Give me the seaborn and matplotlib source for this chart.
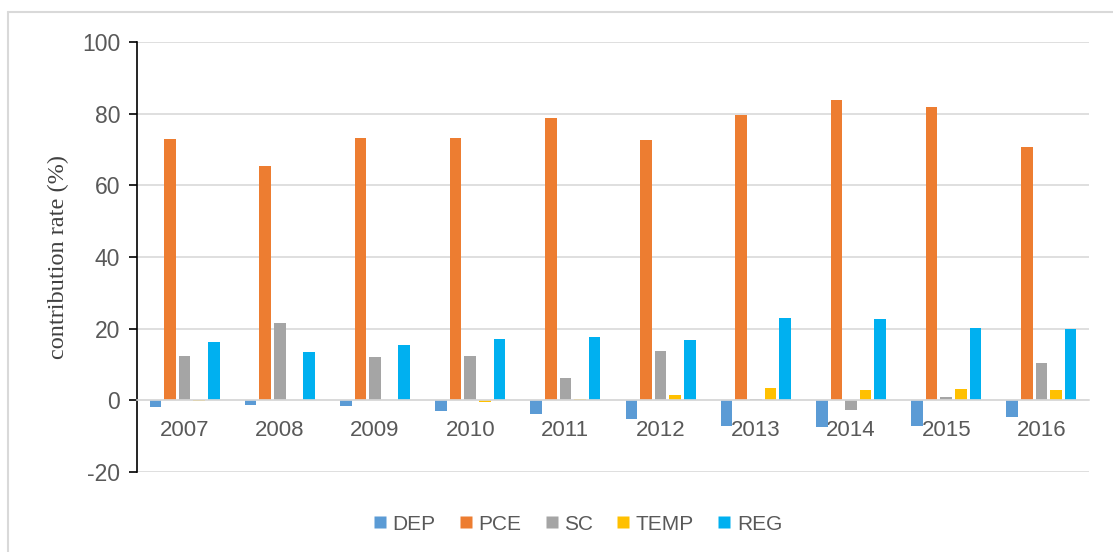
import seaborn as sns
import pandas as pd
import matplotlib.pyplot as plt
from matplotlib.lines import Line2D

# values
years = ['2007', '2008', '2009', '2010', '2011', '2012', '2013', '2014', '2015', '2016']
series = ['DEP', 'PCE', 'SC', 'TEMP', 'REG']
dep = [-1.8, -1.3, -1.6, -3.0, -3.9, -5.3, -7.1, -7.4, -7.2, -4.6]
pce = [72.9, 65.5, 73.1, 73.2, 78.8, 72.6, 79.7, 83.7, 82.0, 70.6]
sc = [12.3, 21.6, 12.2, 12.5, 6.3, 13.7, 0.3, -2.8, 0.9, 10.5]
temp = [-0.2, 0.0, 0.0, -0.4, 0.3, 1.5, 3.4, 2.8, 3.1, 2.8]
reg = [16.3, 13.6, 15.5, 17.1, 17.8, 16.7, 22.9, 22.8, 20.3, 19.9]
colors = ['#5B9BD5', '#ED7D31', '#A5A5A5', '#FFC000', '#00B0F0']

df = pd.DataFrame({'year': years, 'DEP': dep, 'PCE': pce, 'SC': sc, 'TEMP': temp, 'REG': reg})
long = df.melt(id_vars='year', var_name='series', value_name='value')

sns.set_style('white')
plt.rcParams['font.family'] = ['Liberation Sans', 'DejaVu Sans']
plt.rcParams['axes.unicode_minus'] = False

fig = plt.figure(figsize=(11.13, 5.52), dpi=100)
ax = fig.add_axes([137 / 1113, 1 - 472 / 552, (1089 - 137) / 1113, (472 - 42) / 552])

sns.barplot(data=long, x='year', y='value', hue='series', hue_order=series,
            palette=colors, width=0.765, gap=0.2, ax=ax, legend=False,
            saturation=1, edgecolor='none')

ax.set_ylim(-20, 100)
ax.set_xlim(-0.5, 9.5)
ax.set_yticks(range(-20, 101, 20))
ax.yaxis.grid(True, color='#D9D9D9', linewidth=1.2)
ax.set_axisbelow(True)

for s in ['top', 'right']:
    ax.spines[s].set_visible(False)
ax.spines['left'].set_color('black')
ax.spines['left'].set_linewidth(1.2)
ax.spines['bottom'].set_position(('data', 0))
ax.spines['bottom'].set_color('#D9D9D9')
ax.spines['bottom'].set_linewidth(1.2)

ax.tick_params(axis='y', direction='out', length=6, width=1.2, color='black',
               labelsize=16.5, labelcolor='#595959', pad=6, left=True)
ax.tick_params(axis='x', length=0, labelsize=16, labelcolor='#595959', pad=14)

ax.set_xlabel('')
ax.set_ylabel('contribution rate (%)', family='Liberation Serif', fontsize=17.5,
              color='#404040')
ax.yaxis.set_label_coords(-68 / (1089 - 137), 0.5)

handles = [Line2D([], [], marker='s', linestyle='none', markersize=9,
                  markerfacecolor=c, markeredgecolor='none') for c in colors]
fig.legend(handles, series, loc='center', bbox_to_anchor=(576 / 1113, 1 - 524 / 552),
           ncol=5, frameon=False, fontsize=15, labelcolor='#595959',
           handletextpad=0.1, columnspacing=0.95, handlelength=1.0)

# light frame at the left and top like the source image
fig.add_artist(Line2D([8 / 1113, 8 / 1113], [0, 1 - 12 / 552], transform=fig.transFigure,
                      color='#D9D9D9', linewidth=1.5))
fig.add_artist(Line2D([8 / 1113, 1], [1 - 12 / 552, 1 - 12 / 552], transform=fig.transFigure,
                      color='#D9D9D9', linewidth=1.5))

fig.savefig('out.png', dpi=100)
